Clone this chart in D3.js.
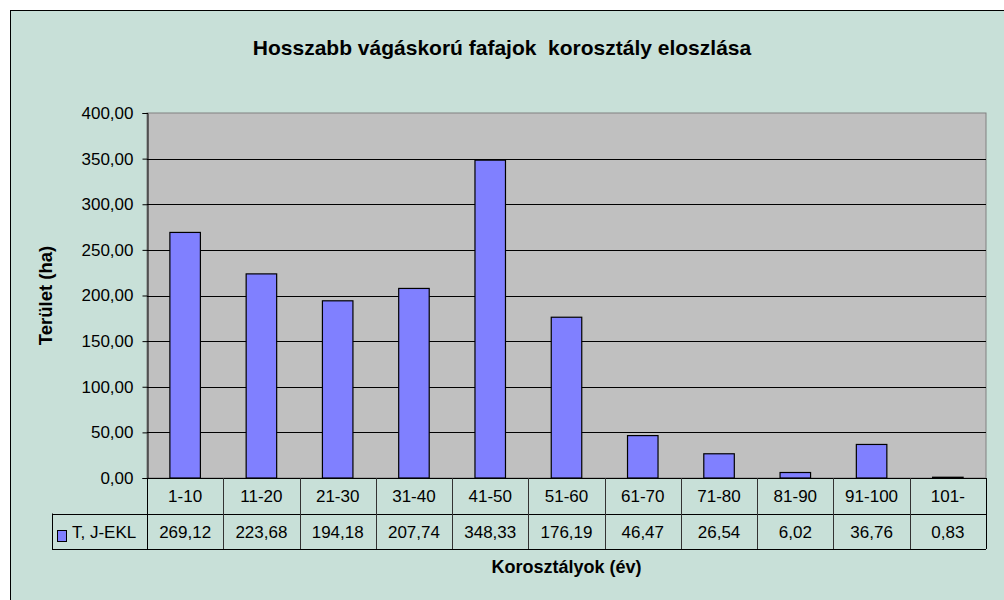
<!DOCTYPE html>
<html>
<head>
<meta charset="utf-8">
<script src="https://cdn.jsdelivr.net/npm/d3@7"></script>
<style>
  body { margin: 0; background: #fff; }
  text { font-family: "Liberation Sans", Arial, sans-serif; fill: #000; }
</style>
</head>
<body>
<div class="container"></div>
<script>
const categories = ["1-10", "11-20", "21-30", "31-40", "41-50", "51-60", "61-70", "71-80", "81-90", "91-100", "101-"]
const values = [269.12, 223.68, 194.18, 207.74, 348.33, 176.19, 46.47, 26.54, 6.02, 36.76, 0.83]
const seriesName = "T, J-EKL"
const yTicks = [0, 50, 100, 150, 200, 250, 300, 350, 400]

const huLocale = d3.formatLocale({decimal: ",", thousands: " ", grouping: [3], currency: ["", ""]})
const fmt = huLocale.format(".2f")

const width = 1004, height = 600
const plot = {left: 147, top: 113, right: 986, bottom: 478}
const rowH = 35.5
const legendLeft = 52

const svg = d3.select(".container").append("svg")
    .attr("width", width)
    .attr("height", height)

// chart area
svg.append("rect")
    .attr("x", 10.5).attr("y", 10.5)
    .attr("width", 1010).attr("height", 610)
    .attr("fill", "#c8e0d8")
    .attr("stroke", "#000")

const x = d3.scaleBand()
    .domain(categories)
    .range([plot.left, plot.right])
    .paddingInner(0.6).paddingOuter(0.3)

const xCol = d3.scaleBand()
    .domain(categories)
    .range([plot.left, plot.right])

const y = d3.scaleLinear()
    .domain([0, 400])
    .range([plot.bottom, plot.top])

// plot background
svg.append("rect")
    .attr("x", plot.left).attr("y", plot.top)
    .attr("width", plot.right - plot.left)
    .attr("height", plot.bottom - plot.top)
    .attr("fill", "#c0c0c0")
    .attr("stroke", "#808080")

// gridlines
svg.append("g")
    .selectAll("line")
    .data(yTicks.filter(d => d > 0 && d < 400))
    .enter().append("line")
    .attr("x1", plot.left).attr("x2", plot.right)
    .attr("y1", d => Math.round(y(d)) + 0.5)
    .attr("y2", d => Math.round(y(d)) + 0.5)
    .attr("stroke", "#000")

// bars
svg.append("g")
    .selectAll("rect")
    .data(values)
    .enter().append("rect")
    .attr("x", (d, i) => x(categories[i]))
    .attr("y", d => y(d))
    .attr("width", x.bandwidth())
    .attr("height", d => plot.bottom - y(d))
    .attr("fill", "#8080ff")
    .attr("stroke", "#000")
    .attr("stroke-width", 1.2)

// y axis
const yAxis = svg.append("g")
    .attr("transform", `translate(${plot.left + 0.5},0)`)
    .call(d3.axisLeft(y).tickValues(yTicks).tickFormat(fmt).tickSize(5).tickPadding(9))
yAxis.select(".domain").attr("stroke", "#000")
yAxis.selectAll(".tick line").attr("stroke", "#000")
yAxis.selectAll("text")
    .attr("font-size", 17)
    .attr("font-family", "Liberation Sans, Arial, sans-serif")
    .attr("fill", "#000")

// data table
const table = svg.append("g")
const row1 = plot.bottom, row2 = plot.bottom + rowH, row3 = plot.bottom + 2 * rowH

table.append("line").attr("x1", plot.left).attr("x2", plot.right)
    .attr("y1", row1 + 0.5).attr("y2", row1 + 0.5).attr("stroke", "#000")
table.append("line").attr("x1", legendLeft).attr("x2", plot.right)
    .attr("y1", Math.round(row2) + 0.5).attr("y2", Math.round(row2) + 0.5).attr("stroke", "#000")
table.append("line").attr("x1", legendLeft).attr("x2", plot.right)
    .attr("y1", Math.round(row3) + 0.5).attr("y2", Math.round(row3) + 0.5).attr("stroke", "#000")
table.append("line").attr("x1", legendLeft + 0.5).attr("x2", legendLeft + 0.5)
    .attr("y1", row2).attr("y2", row3).attr("stroke", "#000")

table.selectAll(".vline")
    .data(categories.map(c => xCol(c)).concat([plot.right]))
    .enter().append("line")
    .attr("x1", d => Math.round(d) + 0.5).attr("x2", d => Math.round(d) + 0.5)
    .attr("y1", row1).attr("y2", row3)
    .attr("stroke", (d, i) => (i === 0 || i === categories.length) ? "#000" : "#333")

table.selectAll(".cat")
    .data(categories)
    .enter().append("text")
    .attr("x", d => xCol(d) + xCol.bandwidth() / 2)
    .attr("y", row1 + 24)
    .attr("text-anchor", "middle")
    .attr("font-size", 17)
    .text(d => d)

table.selectAll(".val")
    .data(values)
    .enter().append("text")
    .attr("x", (d, i) => xCol(categories[i]) + xCol.bandwidth() / 2)
    .attr("y", row2 + 24)
    .attr("text-anchor", "middle")
    .attr("font-size", 17)
    .text(d => fmt(d))

// legend key
table.append("rect")
    .attr("x", 57.5).attr("y", 530.5)
    .attr("width", 9).attr("height", 11)
    .attr("fill", "#8080ff").attr("stroke", "#000")
table.append("text")
    .attr("x", 72).attr("y", row2 + 24)
    .attr("font-size", 17)
    .text(seriesName)

// titles
svg.append("text")
    .attr("x", 502).attr("y", 55)
    .attr("text-anchor", "middle")
    .attr("font-size", 21)
    .attr("font-weight", "bold")
    .attr("xml:space", "preserve")
    .style("white-space", "pre")
    .text("Hosszabb vágáskorú fafajok  korosztály eloszlása")

svg.append("text")
    .attr("transform", `translate(52,${(plot.top + plot.bottom) / 2}) rotate(-90)`)
    .attr("text-anchor", "middle")
    .attr("font-size", 18.5)
    .attr("font-weight", "bold")
    .text("Terület (ha)")

svg.append("text")
    .attr("x", (plot.left + plot.right) / 2).attr("y", 573)
    .attr("text-anchor", "middle")
    .attr("font-size", 18)
    .attr("font-weight", "bold")
    .text("Korosztályok (év)")
</script>
</body>
</html>
